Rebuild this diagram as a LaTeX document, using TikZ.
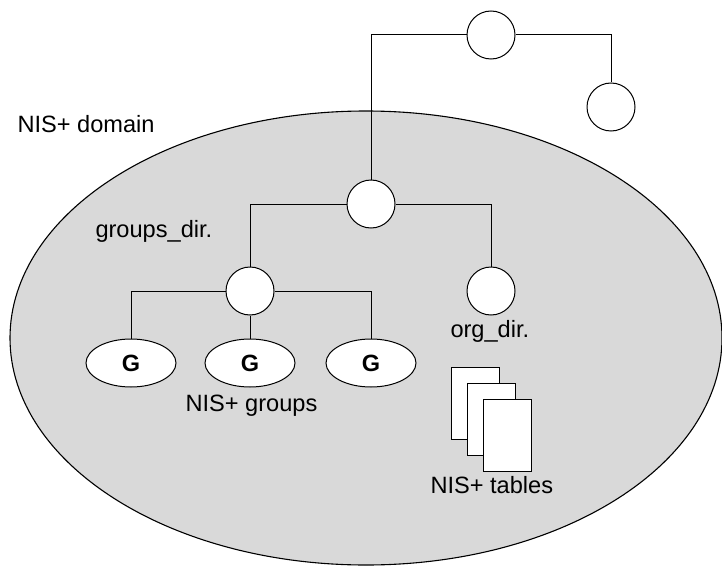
\documentclass[tikz,border=0pt]{standalone}
\usepackage{fontspec}
\setmainfont{Liberation Sans}
\usetikzlibrary{shapes.geometric}
\begin{document}
\begin{tikzpicture}[x=1pt,y=-1pt,
  every path/.style={line width=1pt},
  dircircle/.style={draw=black,fill=white,circle,minimum size=48pt,inner sep=0pt,line width=1pt},
  grpell/.style={draw=black,fill=white,ellipse,minimum width=90pt,minimum height=48pt,inner sep=0pt,line width=1pt,
    font=\fontsize{23.5}{26}\selectfont\bfseries},
  lbl/.style={anchor=base west,inner sep=0pt,font=\fontsize{23.6}{28}\selectfont},
  tablebox/.style={draw=black,fill=white,rectangle,minimum width=48pt,minimum height=72pt,inner sep=0pt,line width=1pt},
  conn/.style={draw=black,line width=1pt}]
\useasboundingbox (0,0) rectangle (722,567);
% domain ellipse
\path[fill={rgb,255:red,217;green,217;blue,217},draw=black,line width=1.1pt] (366,338) ellipse [x radius=356, y radius=227];
% directory nodes
\node[dircircle] (root) at (491,35) {};
\node[dircircle] (other) at (611,107) {};
\node[dircircle] (mid) at (371,204) {};
\node[dircircle] (grp) at (250,291) {};
\node[dircircle] (org) at (491,291) {};
% group objects
\node[grpell] (g1) at (131,363) {G};
\node[grpell] (g2) at (250,363) {G};
\node[grpell] (g3) at (371,363) {G};
% tables
\node[tablebox] (t1) at (475,403) {};
\node[tablebox] (t2) at (491,419) {};
\node[tablebox] (t3) at (507,435) {};
% connectors
\draw[conn] (root.west) -| (mid.north);
\draw[conn] (root.east) -| (other.north);
\draw[conn] (mid.west) -| (grp.north);
\draw[conn] (mid.east) -| (org.north);
\draw[conn] (grp.west) -| (g1.north);
\draw[conn] (grp.east) -| (g3.north);
\draw[conn] (grp.south) -- (g2.north);
% labels
\node[lbl] (ldomain) at (17,132) {NIS+ domain};
\node[lbl] (lgroupsdir) at (95,237) {groups\_dir.};
\node[lbl] (lgroups) at (185,411) {NIS+ groups};
\node[lbl] (lorgdir) at (450,337) {org\_dir.};
\node[lbl] (ltables) at (430,493) {NIS+ tables};
\end{tikzpicture}
\end{document}
